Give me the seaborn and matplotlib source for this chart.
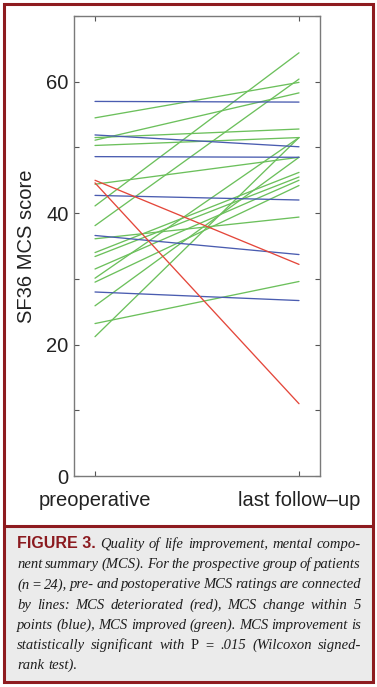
import matplotlib
matplotlib.use('Agg')
import matplotlib.pyplot as plt
import pandas as pd
import seaborn as sns
from matplotlib.patches import Rectangle
from matplotlib.lines import Line2D

# MCS scores (pre -> last follow-up), one pair per patient
pre_green = [41.1, 38.1, 54.5, 51.1, 51.5, 50.3, 21.2, 30.1, 44.4, 25.9, 34.0, 33.4, 31.5, 29.5, 36.1, 23.2]
post_green = [64.4, 60.4, 59.9, 58.3, 52.8, 51.5, 51.5, 51.5, 48.5, 48.5, 46.2, 45.5, 45.0, 44.2, 39.4, 29.6]
pre_blue = [57.0, 51.9, 48.6, 42.7, 36.6, 28.0]
post_blue = [56.9, 50.1, 48.5, 42.0, 33.7, 26.7]
pre_red = [45.0, 44.6]
post_red = [32.2, 11.0]

time_labels = ['preoperative', 'last follow–up']
y_ticks = [0, 10, 20, 30, 40, 50, 60, 70]
y_ticklabels = ['0', '', '20', '', '40', '', '60', '']

caption_head = 'FIGURE 3.'
caption_lines = [
    'Quality of life improvement, mental compo-',
    'nent summary (MCS). For the prospective group of patients',
    '(n = 24), pre- and postoperative MCS ratings are connected',
    'by lines: MCS deteriorated (red), MCS change within 5',
    'points (blue), MCS improved (green). MCS improvement is',
    'statistically significant with P = .015 (Wilcoxon signed-',
    'rank test).',
]

# long table: one row per patient and time point
rows = []
pid = 0
for grp, pre, post in [('improved', pre_green, post_green),
                       ('stable', pre_blue, post_blue),
                       ('deteriorated', pre_red, post_red)]:
    for a, b in zip(pre, post):
        rows.append((pid, grp, 0, a))
        rows.append((pid, grp, 1, b))
        pid += 1
df = pd.DataFrame(rows, columns=['patient', 'change', 'time', 'mcs'])

sns.set_style('ticks')
plt.rcParams['font.family'] = ['Liberation Sans', 'DejaVu Sans']

W, H = 377, 687
fig = plt.figure(figsize=(W / 100, H / 100), dpi=100)
ax = fig.add_axes([74 / W, 1 - 476 / H, 246 / W, 460 / H])

sns.lineplot(data=df, x='time', y='mcs', hue='change', units='patient', estimator=None,
             hue_order=['improved', 'stable', 'deteriorated'],
             palette={'improved': '#6cc05c', 'stable': '#4a5cb0', 'deteriorated': '#e4473b'},
             lw=0.95, legend=False, ax=ax)

ax.set_xlim(-0.103, 1.103)
ax.set_ylim(0, 70)
ax.set_xticks([0, 1])
ax.set_xticklabels(time_labels, fontsize=14.5, color='#222222')
ax.set_yticks(y_ticks)
ax.set_yticklabels(y_ticklabels, fontsize=14.5, color='#222222')
ax.tick_params(axis='both', direction='in', length=3.5, width=0.8, color='#555555',
               top=True, right=True)
ax.tick_params(axis='x', pad=11)
ax.tick_params(axis='y', pad=4)
ax.set_xlabel('')
ax.set_ylabel('SF36 MCS score', fontsize=14.5, color='#222222')
ax.yaxis.set_label_coords(-0.155, 0.5)
for sp in ax.spines.values():
    sp.set_visible(True)
    sp.set_color('#7a7a7a')
    sp.set_linewidth(1.0)

# caption box and outer frame
frame_col = '#8e1b1f'
fig.patches.append(Rectangle((4 / W, 1 - 682 / H), 369 / W, (682 - 527) / H,
                             transform=fig.transFigure, facecolor='#ebebeb',
                             edgecolor='none', zorder=0))
fig.lines.append(Line2D([4 / W, 373 / W], [1 - 526 / H, 1 - 526 / H],
                        transform=fig.transFigure, color=frame_col, lw=2.2))
fig.patches.append(Rectangle((4 / W, 1 - 682 / H), 369 / W, 678 / H,
                             transform=fig.transFigure, fill=False,
                             edgecolor=frame_col, lw=2.2, zorder=5))

# justified caption text
renderer = fig.canvas.get_renderer()
x_left, x_right = 17, 361
head_kw = dict(family=['Liberation Sans', 'DejaVu Sans'], weight='bold', size=11.5, color='#8b1a1f')
min_gap = 2.6

def make_kw(tok, size):
    style = 'normal' if tok == 'P' else 'italic'
    return dict(family=['Liberation Serif', 'DejaVu Serif'], style=style, size=size, color='#1e1e1e')

probe = fig.text(0, 0, caption_head, **head_kw)
head_w = probe.get_window_extent(renderer).width
probe.remove()

size = 12.0
for i, line in enumerate(caption_lines[:-1]):
    toks = line.split(' ')
    tw = 0
    for t in toks:
        p = fig.text(0, 0, t, **make_kw(t, 10))
        tw += p.get_window_extent(renderer).width
        p.remove()
    n = len(toks) + (1 if i == 0 else 0)
    avail = (x_right - x_left) - (n - 1) * min_gap - (head_w if i == 0 else 0)
    size = min(size, 10 * avail / tw)

for i, line in enumerate(caption_lines):
    y = 1 - (548 + 20.2 * i) / H
    items = [(caption_head, head_kw)] if i == 0 else []
    items += [(t, make_kw(t, size)) for t in line.split(' ')]
    texts = [fig.text(0, y, s, ha='left', va='baseline', **kw) for s, kw in items]
    widths = [t.get_window_extent(renderer).width for t in texts]
    if i < len(caption_lines) - 1:
        gap = (x_right - x_left - sum(widths)) / (len(texts) - 1)
    else:
        gap = 4.0
    x = x_left
    for t, w in zip(texts, widths):
        t.set_x(x / W)
        x += w + gap

fig.savefig('out.png', dpi=100)
